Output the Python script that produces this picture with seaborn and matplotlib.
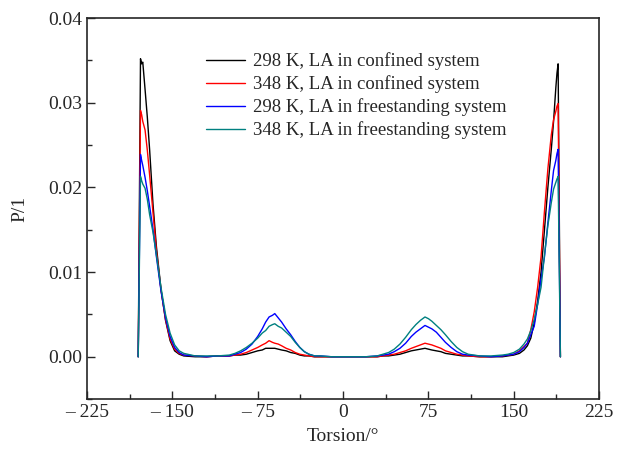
import pandas as pd
import matplotlib
matplotlib.use("Agg")
import matplotlib.pyplot as plt
from matplotlib.ticker import MultipleLocator
import seaborn as sns

# torsion angle grid (degrees)
torsion = [-180, -178, -177, -176, -174, -172, -170, -167, -164, -160, -156, -152, -148, -144, -140,
           -130, -120, -110, -100, -95, -90, -85, -80, -75, -71, -68, -65, -62, -60, -57, -54, -50,
           -46, -42, -38, -34, -30, -25, -20, -10, 0, 10, 20, 30, 35, 40, 45, 50, 55, 60, 64, 68,
           72, 75, 78, 82, 86, 90, 95, 100, 105, 110, 120, 130, 140, 145, 150, 155, 159, 162, 165,
           168, 171, 174, 177, 180, 183, 185, 187, 188, 189, 191]

p_298_conf = [0, 0.0352, 0.0346, 0.0348, 0.0316, 0.0283, 0.0245, 0.0180, 0.0130, 0.0080, 0.0043,
              0.0019, 0.0007, 0.0003, 0.0001, 0.0000, 0.0000, 0.0001, 0.0001, 0.0002, 0.0002,
              0.0003, 0.0005, 0.0007, 0.0008, 0.0010, 0.0010, 0.0010, 0.0010, 0.0009, 0.0008,
              0.0007, 0.0005, 0.0004, 0.0002, 0.0001, 0.0001, 0.0000, 0.0000, 0.0000, 0.0000,
              0.0000, 0.0000, 0.0000, 0.0001, 0.0001, 0.0002, 0.0003, 0.0005, 0.0007, 0.0008,
              0.0009, 0.0010, 0.0009, 0.0008, 0.0007, 0.0006, 0.0004, 0.0003, 0.0002, 0.0001,
              0.0001, 0.0000, 0.0000, 0.0000, 0.0001, 0.0002, 0.0004, 0.0008, 0.0013, 0.0022,
              0.0040, 0.0066, 0.0100, 0.0150, 0.0200, 0.0245, 0.0278, 0.0318, 0.0335, 0.0346, 0]

p_348_conf = [0, 0.0291, 0.0286, 0.0278, 0.0268, 0.0244, 0.0215, 0.0170, 0.0125, 0.0079, 0.0044,
              0.0021, 0.0009, 0.0004, 0.0002, 0.0001, 0.0000, 0.0001, 0.0001, 0.0002, 0.0003,
              0.0005, 0.0008, 0.0011, 0.0014, 0.0016, 0.0019, 0.0017, 0.0016, 0.0015, 0.0013,
              0.0010, 0.0008, 0.0005, 0.0003, 0.0002, 0.0001, 0.0000, 0.0000, 0.0000, 0.0000,
              0.0000, 0.0000, 0.0000, 0.0001, 0.0002, 0.0003, 0.0005, 0.0007, 0.0010, 0.0012,
              0.0014, 0.0016, 0.0015, 0.0014, 0.0012, 0.0010, 0.0007, 0.0005, 0.0003, 0.0002,
              0.0001, 0.0000, 0.0000, 0.0001, 0.0002, 0.0003, 0.0007, 0.0012, 0.0016, 0.0032,
              0.0053, 0.0082, 0.0118, 0.0172, 0.0222, 0.0262, 0.0280, 0.0290, 0.0296, 0.0299, 0]

p_298_free = [0, 0.0239, 0.0232, 0.0226, 0.0212, 0.0196, 0.0178, 0.0150, 0.0118, 0.0078, 0.0046,
              0.0024, 0.0011, 0.0005, 0.0002, 0.0001, 0.0000, 0.0001, 0.0001, 0.0003, 0.0005,
              0.0009, 0.0015, 0.0024, 0.0033, 0.0041, 0.0047, 0.0049, 0.0051, 0.0046, 0.0041,
              0.0033, 0.0026, 0.0018, 0.0011, 0.0006, 0.0003, 0.0001, 0.0001, 0.0000, 0.0000,
              0.0000, 0.0000, 0.0001, 0.0002, 0.0003, 0.0006, 0.0010, 0.0016, 0.0024, 0.0029,
              0.0033, 0.0037, 0.0035, 0.0033, 0.0029, 0.0023, 0.0017, 0.0011, 0.0006, 0.0003,
              0.0002, 0.0001, 0.0000, 0.0001, 0.0002, 0.0003, 0.0006, 0.0011, 0.0016, 0.0026,
              0.0036, 0.0062, 0.0092, 0.0118, 0.0158, 0.0196, 0.0220, 0.0232, 0.0240, 0.0245, 0]

p_348_free = [0, 0.0213, 0.0208, 0.0204, 0.0199, 0.0186, 0.0168, 0.0147, 0.0120, 0.0082, 0.0050,
              0.0028, 0.0014, 0.0007, 0.0004, 0.0001, 0.0001, 0.0001, 0.0002, 0.0004, 0.0007,
              0.0011, 0.0016, 0.0022, 0.0028, 0.0031, 0.0036, 0.0038, 0.0039, 0.0036, 0.0034,
              0.0029, 0.0024, 0.0017, 0.0011, 0.0006, 0.0003, 0.0001, 0.0001, 0.0000, 0.0000,
              0.0000, 0.0000, 0.0001, 0.0003, 0.0005, 0.0009, 0.0015, 0.0023, 0.0032, 0.0038,
              0.0043, 0.0047, 0.0045, 0.0042, 0.0037, 0.0032, 0.0026, 0.0018, 0.0011, 0.0006,
              0.0003, 0.0001, 0.0001, 0.0002, 0.0003, 0.0005, 0.0009, 0.0015, 0.0021, 0.0031,
              0.0044, 0.0062, 0.0082, 0.0120, 0.0155, 0.0182, 0.0198, 0.0206, 0.0210, 0.0213, 0]

labels = ["298 K, LA in confined system", "348 K, LA in confined system",
          "298 K, LA in freestanding system", "348 K, LA in freestanding system"]
colors = ["black", "red", "blue", "#008080"]

xticks = [-225, -150, -75, 0, 75, 150, 225]
xtick_labels = ["\u2013 225", "\u2013 150", "\u2013 75", "0", "75", "150", "225"]
yticks = [0.00, 0.01, 0.02, 0.03, 0.04]

series = [p_298_conf, p_348_conf, p_298_free, p_348_free]
df = pd.concat([pd.DataFrame({"torsion": torsion, "P": vals, "system": lab})
                for vals, lab in zip(series, labels)], ignore_index=True)

sns.set_style("ticks")
plt.rcParams["font.family"] = ["Liberation Serif", "DejaVu Serif"]

fig, ax = plt.subplots(figsize=(6.26, 4.53), dpi=100)
fig.subplots_adjust(left=0.139, right=0.957, top=0.960, bottom=0.119)

sns.lineplot(data=df, x="torsion", y="P", hue="system", hue_order=labels,
             palette=colors, linewidth=1.0, ax=ax, sort=False)

ax.set_xlim(-225, 225)
ax.set_ylim(-0.005, 0.04)
ax.set_xticks(xticks)
ax.set_xticklabels(xtick_labels)
ax.set_yticks(yticks)
ax.set_yticklabels([f"{v:.2f}" for v in yticks])
ax.xaxis.set_minor_locator(MultipleLocator(37.5))
ax.yaxis.set_minor_locator(MultipleLocator(0.005))
ax.tick_params(which="both", direction="in", labelsize=14, width=1.0)
ax.tick_params(which="major", length=6)
ax.tick_params(which="minor", length=3.5)
for s in ax.spines.values():
    s.set_linewidth(1.2)
    s.set_visible(True)

ax.set_xlabel("Torsion/\u00b0", fontsize=14, labelpad=5)
ax.set_ylabel("P/1", fontsize=14, labelpad=14)

ax.legend(frameon=False, fontsize=13.5, loc="upper left",
          bbox_to_anchor=(0.21, 0.94), handlelength=2.1, handletextpad=0.4,
          labelspacing=0.28, borderaxespad=0.2)

fig.savefig("out.png", dpi=100)
